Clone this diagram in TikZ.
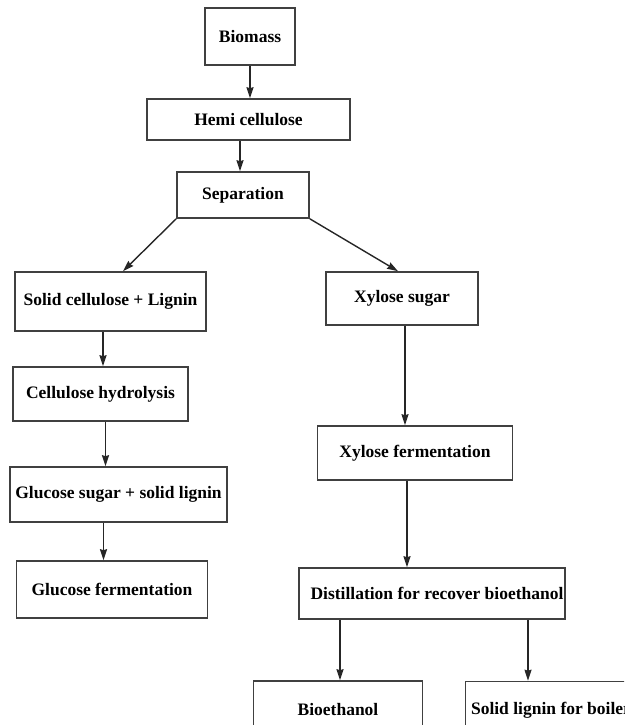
\documentclass[tikz,border=0pt]{standalone}
\usepackage{fontspec}
\setmainfont{Liberation Serif}
\usetikzlibrary{arrows.meta}

\tikzset{
    procbox/.style={draw=black!75, line width=1.6pt, inner sep=0pt,
        font=\fontsize{17.5}{19}\selectfont\bfseries},
    flow/.style={-{Stealth[length=11pt, width=7pt, inset=1pt]}, line width=1.4pt, draw=black!85},
}

\begin{document}
\begin{tikzpicture}[x=1pt, y=-1pt]
    \useasboundingbox (0,0) rectangle (624,725);
    \clip (0,0) rectangle (624,725);
    % top chain
    \node[procbox, minimum width=90pt, minimum height=57pt] (biomass) at (250,36.5) {Biomass};
    \node[procbox, minimum width=203pt, minimum height=41pt] (hemi) at (248.5,119.5) {Hemi cellulose};
    \node[procbox, minimum width=132pt, minimum height=46pt] (separation) at (243,195) {Separation};
    % left branch
    \node[procbox, minimum width=191pt, minimum height=59pt] (solidlig) at (110.5,301.5) {Solid cellulose + Lignin};
    \node[procbox, minimum width=175pt, minimum height=54pt] (hydrolysis) at (100.5,394) {Cellulose hydrolysis};
    \node[procbox, minimum width=217pt, minimum height=55pt] (glusugar) at (118.5,494.5) {Glucose sugar + solid lignin};
    \node[procbox, minimum width=191pt, minimum height=57pt] (glucferm) at (112,589.5) {Glucose fermentation};
    % right branch
    \node[procbox, minimum width=152pt, minimum height=53pt] (xylsugar) at (402,298.5) {Xylose sugar};
    \node[procbox, minimum width=195pt, minimum height=54pt] (xylferm) at (415,453) {Xylose fermentation};
    \node[procbox, minimum width=266.5pt, minimum height=51pt] (distill) at (432,593.5) {\hspace*{10pt}Distillation for recover bioethanol};
    \node[procbox, minimum width=169pt, minimum height=57pt] (bioethanol) at (338,709.5) {Bioethanol};
    \node[procbox, minimum width=171pt, minimum height=57pt] (ligboiler) at (551,710) {Solid lignin for boiler};

    \draw[flow] (biomass.south) -- (biomass.south |- hemi.north);
    \draw[flow] ([xshift=-3pt]separation.north |- hemi.south) -- ([xshift=-3pt]separation.north);
    \draw[flow] (separation.south west) -- ([xshift=12.5pt]solidlig.north);
    \draw[flow] (separation.south east) -- ([xshift=-4pt]xylsugar.north);
    \draw[flow] ([xshift=2.5pt]hydrolysis.north |- solidlig.south) -- ([xshift=2.5pt]hydrolysis.north);
    \draw[flow] ([xshift=5pt]hydrolysis.south) -- ([xshift=5pt]hydrolysis.south |- glusugar.north);
    \draw[flow] ([xshift=-8.5pt]glucferm.north |- glusugar.south) -- ([xshift=-8.5pt]glucferm.north);
    \draw[flow] ([xshift=3pt]xylsugar.south) -- ([xshift=3pt]xylsugar.south |- xylferm.north);
    \draw[flow] ([xshift=-8pt]xylferm.south) -- ([xshift=-8pt]xylferm.south |- distill.north);
    \draw[flow] ([xshift=2pt]bioethanol.north |- distill.south) -- ([xshift=2pt]bioethanol.north);
    \draw[flow] ([xshift=96pt]distill.south) -- ([xshift=96pt]distill.south |- ligboiler.north);
\end{tikzpicture}
\end{document}
